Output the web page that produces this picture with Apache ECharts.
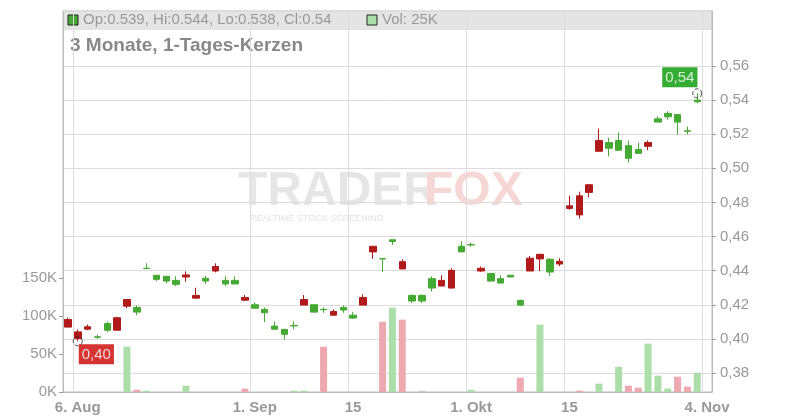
<!DOCTYPE html>
<html>
<head>
<meta charset="utf-8">
<script src="https://cdn.jsdelivr.net/npm/echarts@6/dist/echarts.min.js"></script>
<style>html,body{margin:0;padding:0;background:#fff}#chart{width:800px;height:420px}</style>
</head>
<body>
<div id="chart"></div>
<script>
// Handelstage 5. Aug - 4. Nov
var dates = ['05.08','06.08','07.08','08.08','09.08','12.08','13.08','14.08','15.08','16.08',
  '19.08','20.08','21.08','22.08','23.08','26.08','27.08','28.08','29.08','30.08',
  '02.09','03.09','04.09','05.09','06.09','09.09','10.09','11.09','12.09','13.09',
  '16.09','17.09','18.09','19.09','20.09','23.09','24.09','25.09','26.09','27.09',
  '30.09','01.10','02.10','03.10','04.10','07.10','08.10','09.10','10.10','11.10',
  '14.10','15.10','16.10','17.10','18.10','21.10','22.10','23.10','24.10','25.10',
  '28.10','29.10','30.10','31.10','01.11','04.11'];
var tickIndex = [1, 19, 29, 41, 51, 65];
var tickText = ['6. Aug', '1. Sep', '15', '1. Okt', '15', '4. Nov'];

// [open, close, low, high]
var ohlc = [
  [0.4114,0.4069,0.4069,0.4124],[0.4041,0.4002,0.3986,0.4055],[0.4071,0.4057,0.4051,0.4084],[0.4010,0.4012,0.4000,0.4025],
  [0.4051,0.4090,0.4039,0.4102],[0.4124,0.4051,0.4051,0.4130],[0.4231,0.4192,0.4180,0.4231],[0.4157,0.4184,0.4139,0.4196],
  [0.4412,0.4414,0.4412,0.4443],[0.4349,0.4373,0.4339,0.4373],[0.4339,0.4367,0.4325,0.4367],[0.4320,0.4343,0.4310,0.4367],
  [0.4375,0.4363,0.4335,0.4396],[0.4255,0.4239,0.4239,0.4300],[0.4339,0.4355,0.4322,0.4369],[0.4425,0.4398,0.4390,0.4443],
  [0.4322,0.4343,0.4310,0.4367],[0.4322,0.4343,0.4322,0.4367],[0.4243,0.4227,0.4222,0.4257],[0.4180,0.4200,0.4180,0.4214],
  [0.4153,0.4173,0.4098,0.4184],[0.4057,0.4075,0.4057,0.4102],[0.4027,0.4055,0.3996,0.4055],[0.4076,0.4078,0.4055,0.4102],
  [0.4231,0.4198,0.4198,0.4257],[0.4157,0.4200,0.4157,0.4200],[0.4171,0.4173,0.4153,0.4184],[0.4161,0.4139,0.4139,0.4173],
  [0.4169,0.4184,0.4153,0.4196],[0.4122,0.4139,0.4116,0.4157],[0.4243,0.4198,0.4198,0.4261],[0.4543,0.4510,0.4469,0.4543],
  [0.4469,0.4470,0.4392,0.4470],[0.4571,0.4581,0.4551,0.4581],[0.4453,0.4410,0.4410,0.4467],[0.4222,0.4255,0.4210,0.4261],
  [0.4222,0.4255,0.4210,0.4261],[0.4298,0.4353,0.4278,0.4367],[0.4343,0.4310,0.4310,0.4373],[0.4402,0.4298,0.4298,0.4414],
  [0.4510,0.4543,0.4510,0.4573],[0.4551,0.4553,0.4541,0.4565],[0.4414,0.4398,0.4392,0.4425],[0.4339,0.4384,0.4339,0.4384],
  [0.4327,0.4353,0.4327,0.4373],[0.4363,0.4373,0.4363,0.4373],[0.4198,0.4225,0.4192,0.4231],[0.4473,0.4398,0.4398,0.4486],
  [0.4496,0.4469,0.4398,0.4496],[0.4392,0.4467,0.4369,0.4473],[0.4455,0.4439,0.4427,0.4473],[0.4780,0.4765,0.4757,0.4840],
  [0.4839,0.4727,0.4706,0.4863],[0.4904,0.4859,0.4830,0.4904],[0.5163,0.5100,0.5100,0.5233],[0.5118,0.5151,0.5070,0.5180],
  [0.5106,0.5163,0.5106,0.5210],[0.5059,0.5133,0.5035,0.5163],[0.5088,0.5110,0.5088,0.5151],[0.5151,0.5129,0.5106,0.5163],
  [0.5271,0.5290,0.5271,0.5306],[0.5302,0.5322,0.5286,0.5335],[0.5271,0.5316,0.5200,0.5316],[0.5218,0.5220,0.5200,0.5245],
  [0.5390,0.5400,0.5380,0.5440]
];

var volumes = [0,0,0,0,0,0,59600,3000,1800,0,
  0,0,8300,0,0,0,0,0,4400,0,
  0,0,0,1800,1800,0,59600,0,0,0,
  0,0,92500,111000,95200,0,1800,0,0,0,
  0,3000,0,0,0,0,18900,0,88600,0,
  0,0,1800,0,11000,0,33300,8300,5700,63600,
  21500,4400,20200,7000,25400];

var volTicks = [0, 50000, 100000, 150000];
var markIdx = [1, 64];

var upColor = '#44aa33', downColor = '#b01a1a';
var volUp = '#acdeaa', volDown = '#eea8b0', volFlat = '#cccccc';

var volData = volumes.map(function (v, i) {
  var c = volFlat;
  if (i > 0) {
    var d = ohlc[i][1] - ohlc[i - 1][1];
    if (d > 0) c = volUp; else if (d < 0) c = volDown;
  }
  return { value: v, itemStyle: { color: c } };
});

var marks = [
  { value: [markIdx[0], ohlc[markIdx[0]][2]], label: { position: [6, 8], backgroundColor: '#cc0000' } },
  { value: [markIdx[1], ohlc[markIdx[1]][3]], label: { position: [-30, -21], backgroundColor: '#009900' } }
];

function comma(v, d) { return v.toFixed(d).replace('.', ','); }
function isTick(i) { return tickIndex.indexOf(i) >= 0; }

var chart = echarts.init(document.getElementById('chart'));
chart.setOption({
  animation: false,
  grid: [
    { left: 63, right: 88, top: 66, bottom: 47 },
    { left: 63, right: 88, top: 11, bottom: 28, show: true, borderColor: '#bbb', borderWidth: 1 }
  ],
  graphic: [
    { type: 'rect', shape: { x: 64, y: 12, width: 648, height: 18 }, style: { fill: '#e4e4e4' }, z: -1 },
    { type: 'rect', shape: { x: 68, y: 15, width: 10, height: 10 }, style: { fill: upColor, stroke: '#222', lineWidth: 1 } },
    { type: 'text', x: 83, y: 12, style: { text: 'Op:0.539, Hi:0.544, Lo:0.538, Cl:0.54', fill: '#999', font: '15px "Liberation Sans", Arial' } },
    { type: 'rect', shape: { x: 367, y: 15, width: 10, height: 10 }, style: { fill: volUp, stroke: '#222', lineWidth: 1 } },
    { type: 'text', x: 382, y: 12, style: { text: 'Vol: 25K', fill: '#999', font: '15px "Liberation Sans", Arial' } },
    { type: 'text', x: 70, y: 36, style: { text: '3 Monate, 1-Tages-Kerzen', fill: '#888', font: 'bold 19px "Liberation Sans", Arial' } },
    { type: 'text', x: 238, y: 168, z: -1, style: { text: 'TRADER', fill: '#e6e6e6', font: 'bold 48px "Liberation Sans", Arial' } },
    { type: 'text', x: 424, y: 168, z: -1, style: { text: 'FOX', fill: '#f7d6d6', font: 'bold 48px "Liberation Sans", Arial' } },
    { type: 'text', x: 250, y: 214, z: -1, style: { text: 'REALTIME STOCK SCREENING', fill: '#e2e2e2', font: '9px "Liberation Sans", Arial' } }
  ],
  xAxis: [
    { type: 'category', gridIndex: 0, data: dates, show: false },
    {
      type: 'category', gridIndex: 1, data: dates,
      axisLine: { lineStyle: { color: '#bbb' } },
      axisTick: { show: false },
      splitLine: { show: true, interval: function (i) { return isTick(i); }, lineStyle: { color: '#ddd' } },
      axisLabel: {
        interval: function (i) { return isTick(i); },
        formatter: function (v, i) { return tickText[tickIndex.indexOf(i)]; },
        color: '#999', fontSize: 15, fontWeight: 'bold', margin: 8
      }
    }
  ],
  yAxis: [
    {
      type: 'value', gridIndex: 0, position: 'right', min: 0.38, max: 0.56, interval: 0.02,
      axisLine: { show: false },
      axisTick: { show: true, length: 4, lineStyle: { color: '#999' } },
      splitLine: { lineStyle: { color: '#dcdcdc' } },
      axisLabel: { color: '#999', fontSize: 15, margin: 8, formatter: function (v) { return comma(v, 2); } }
    },
    {
      type: 'value', gridIndex: 1, position: 'left', min: 0, max: 501300,
      axisLine: { show: true, lineStyle: { color: '#bbb' } },
      axisTick: { show: true, length: 4, customValues: volTicks, lineStyle: { color: '#999' } },
      splitLine: { show: false },
      axisLabel: { customValues: volTicks, color: '#999', fontSize: 15, margin: 6, formatter: function (v) { return (v / 1000) + 'K'; } }
    },
    {
      type: 'value', gridIndex: 1, position: 'right', min: 0, max: 1,
      axisLine: { show: true, lineStyle: { color: '#bbb' } },
      axisTick: { show: false }, axisLabel: { show: false }, splitLine: { show: false }
    }
  ],
  series: [
    {
      type: 'bar', xAxisIndex: 1, yAxisIndex: 1, data: volData, barWidth: 7, z: 1
    },
    {
      type: 'candlestick', xAxisIndex: 0, yAxisIndex: 0, data: ohlc, barWidth: 7, z: 3,
      itemStyle: { color: upColor, color0: downColor, borderColor: upColor, borderColor0: downColor, borderWidth: 1 }
    },
    {
      type: 'scatter', xAxisIndex: 0, yAxisIndex: 0, data: marks, z: 4,
      symbol: 'circle', symbolSize: 9,
      itemStyle: { color: 'rgba(255,255,255,0)', borderColor: '#222', borderWidth: 1, borderType: 'dashed' },
      label: {
        show: true, color: '#fff', fontSize: 15, padding: [3, 3, 2, 3],
        formatter: function (p) { return comma(p.value[1], 2); }
      }
    }
  ]
});
</script>
</body>
</html>
